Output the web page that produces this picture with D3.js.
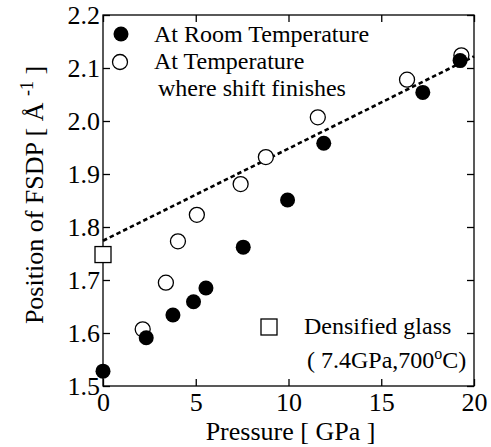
<!DOCTYPE html>
<html>
<head>
<meta charset="utf-8">
<script src="https://cdn.jsdelivr.net/npm/d3@7"></script>
<style>
  body { margin: 0; background: #fff; }
  svg { display: block; font-family: "Liberation Serif", "Times New Roman", serif; }
</style>
</head>
<body>
<svg id="chart" width="491" height="447"></svg>
<script>
// pressure (GPa) and FSDP position (1/Å)
const roomP = [0, 2.33, 3.77, 4.88, 5.55, 7.56, 9.95, 11.9, 17.24, 19.25];
const roomQ = [1.528, 1.591, 1.634, 1.659, 1.685, 1.762, 1.851, 1.958, 2.054, 2.114];
const shiftP = [2.14, 3.39, 4.04, 5.06, 7.42, 8.78, 11.58, 16.39, 19.32];
const shiftQ = [1.607, 1.695, 1.773, 1.823, 1.881, 1.932, 2.007, 2.078, 2.124];
const glassP = [0];
const glassQ = [1.748];
const fitP = [0, 20];
const fitQ = [1.774, 2.122];
const xTicks = [0, 5, 10, 15, 20];
const yTicks = [1.5, 1.6, 1.7, 1.8, 1.9, 2.0, 2.1, 2.2];

const margin = { top: 15, right: 17, bottom: 61, left: 103 };
const width = 491 - margin.left - margin.right;
const height = 447 - margin.top - margin.bottom;

const svg = d3.select("#chart")
  .append("g")
  .attr("transform", `translate(${margin.left},${margin.top})`);

const x = d3.scaleLinear().domain([0, 20]).range([0, width]);
const y = d3.scaleLinear().domain([1.5, 2.2]).range([height, 0]);

const tick = 7;

// axes, ticks pointing inward on all four sides
const styleAxis = g => {
  g.select(".domain").remove();
  g.selectAll(".tick line").attr("stroke", "#000").attr("stroke-width", 1.3);
  g.selectAll("text").attr("font-size", 26).attr("fill", "#000")
    .attr("font-family", "Liberation Serif, Times New Roman, serif");
};

svg.append("g")
  .attr("transform", `translate(0,${height})`)
  .call(d3.axisBottom(x).tickValues(xTicks).tickSizeInner(-tick).tickSizeOuter(0).tickPadding(7))
  .call(styleAxis);

svg.append("g")
  .call(d3.axisTop(x).tickValues(xTicks).tickSizeInner(-tick).tickSizeOuter(0).tickFormat(""))
  .call(styleAxis);

svg.append("g")
  .call(d3.axisLeft(y).tickValues(yTicks).tickSizeInner(-tick).tickSizeOuter(0).tickPadding(3).tickFormat(d3.format(".1f")))
  .call(styleAxis);

svg.append("g")
  .attr("transform", `translate(${width},0)`)
  .call(d3.axisRight(y).tickValues(yTicks).tickSizeInner(-tick).tickSizeOuter(0).tickFormat(""))
  .call(styleAxis);

svg.append("rect")
  .attr("width", width).attr("height", height)
  .attr("fill", "none").attr("stroke", "#000").attr("stroke-width", 1.3);

// fit line
svg.append("path")
  .datum(fitP.map((p, i) => [p, fitQ[i]]))
  .attr("d", d3.line().x(d => x(d[0])).y(d => y(d[1])))
  .attr("fill", "none").attr("stroke", "#000")
  .attr("stroke-width", 2.6).attr("stroke-dasharray", "4.5,3");

// points
const r = 7.5;
svg.selectAll(".shift").data(shiftP).enter().append("circle")
  .attr("cx", d => x(d)).attr("cy", (d, i) => y(shiftQ[i])).attr("r", r)
  .attr("fill", "#fff").attr("stroke", "#000").attr("stroke-width", 1.3);

svg.selectAll(".room").data(roomP).enter().append("circle")
  .attr("cx", d => x(d)).attr("cy", (d, i) => y(roomQ[i])).attr("r", r)
  .attr("fill", "#000");

svg.selectAll(".glass").data(glassP).enter().append("rect")
  .attr("x", d => x(d) - 8).attr("y", (d, i) => y(glassQ[i]) - 8)
  .attr("width", 16).attr("height", 16)
  .attr("fill", "#fff").attr("stroke", "#000").attr("stroke-width", 1.3);

// legend
const leg = svg.append("g").attr("font-size", 24);
leg.append("circle").attr("cx", 18).attr("cy", 19).attr("r", r).attr("fill", "#000");
leg.append("text").attr("x", 51).attr("y", 27).text("At Room Temperature");
leg.append("circle").attr("cx", 17).attr("cy", 47).attr("r", r)
  .attr("fill", "#fff").attr("stroke", "#000").attr("stroke-width", 1.3);
leg.append("text").attr("x", 51).attr("y", 54).text("At Temperature");
leg.append("text").attr("x", 55).attr("y", 80.5).text("where shift finishes");

leg.append("rect").attr("x", 158).attr("y", 304).attr("width", 16).attr("height", 16)
  .attr("fill", "#fff").attr("stroke", "#000").attr("stroke-width", 1.3);
leg.append("text").attr("x", 201).attr("y", 319).text("Densified glass");
const note = leg.append("text").attr("x", 204).attr("y", 353);
note.append("tspan").text("( 7.4GPa,700");
note.append("tspan").attr("font-size", 16).attr("dy", -9).text("o");
note.append("tspan").attr("dy", 9).text("C)");

// axis titles
svg.append("text")
  .attr("x", width / 2 + 2).attr("y", height + 54)
  .attr("text-anchor", "middle").attr("font-size", 26)
  .text("Pressure [ GPa ]");

const yl = svg.append("text")
  .attr("transform", `translate(${43 - margin.left},${195 - margin.top}) rotate(-90)`)
  .attr("text-anchor", "middle").attr("font-size", 26);
yl.append("tspan").text("Position of FSDP  [ Å ");
yl.append("tspan").attr("font-size", 18).attr("dy", -10).text("-1");
yl.append("tspan").attr("dy", 10).text(" ]");
</script>
</body>
</html>
